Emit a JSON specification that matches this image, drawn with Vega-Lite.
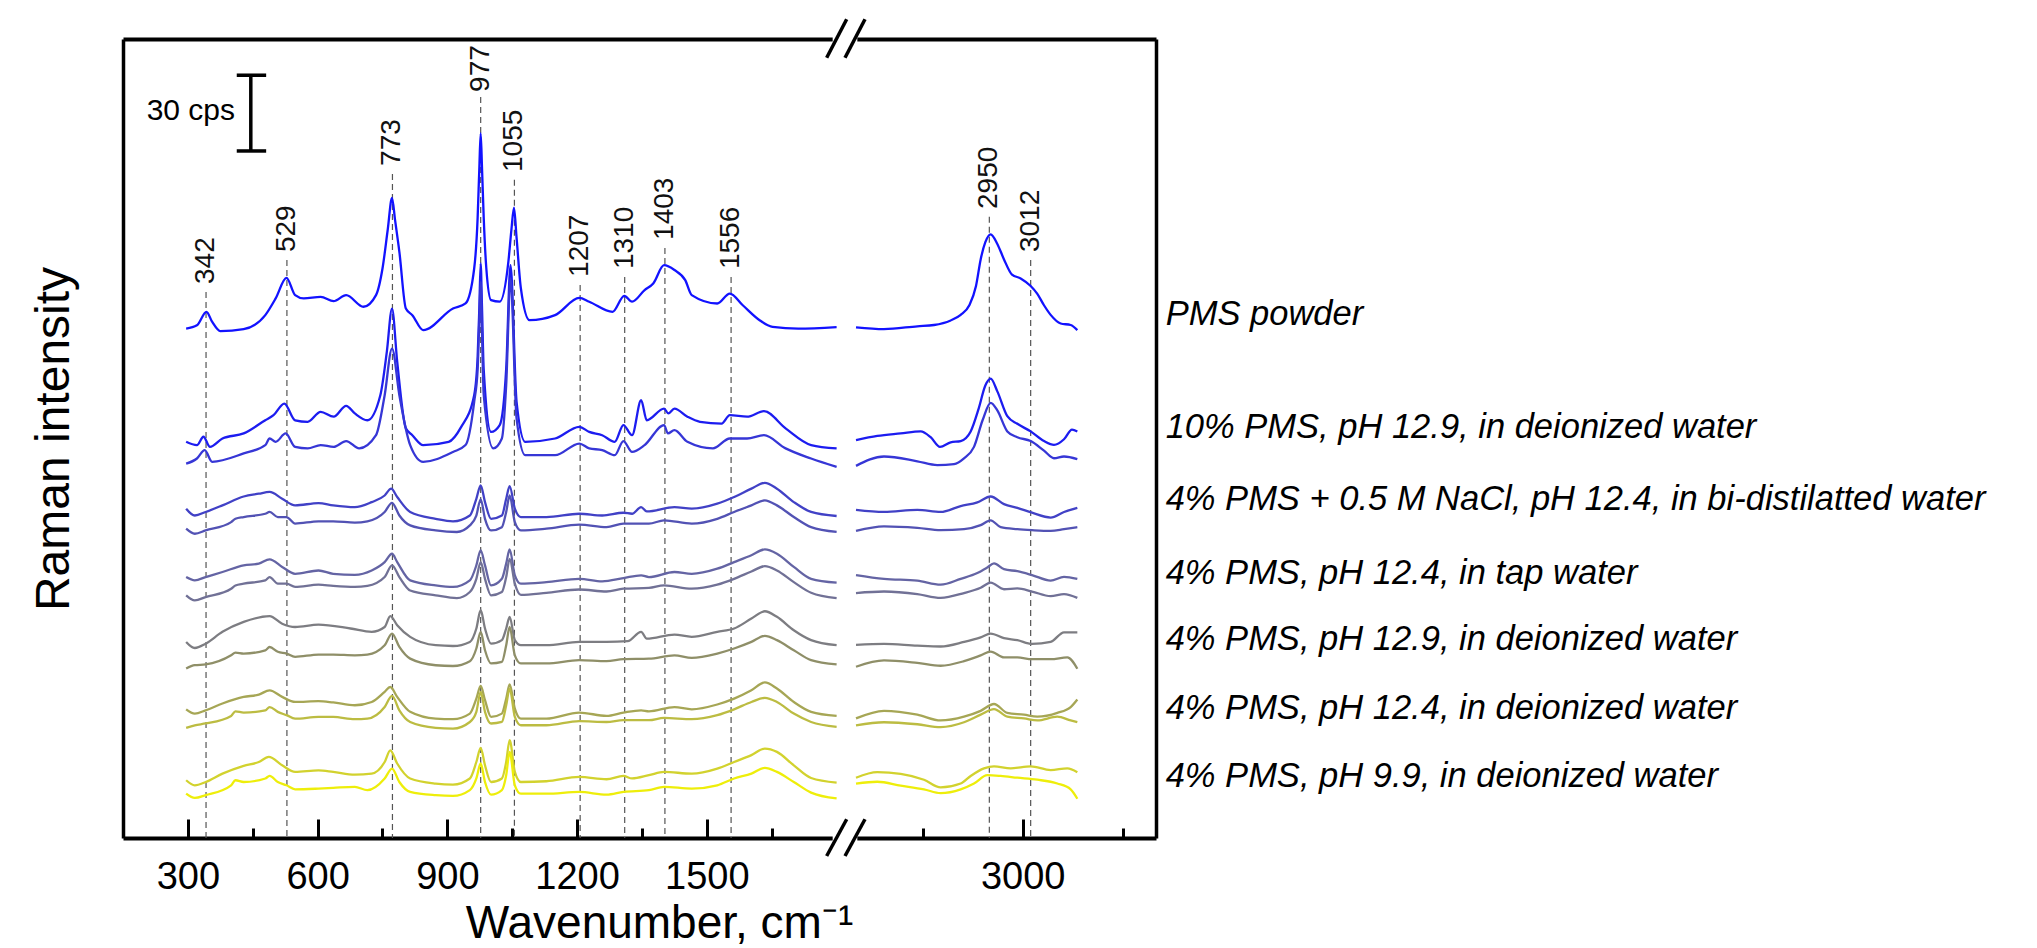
{
  "$schema": "https://vega.github.io/schema/vega-lite/v6.json",
  "padding": {"left": 30, "top": 17, "right": 5, "bottom": 5},
  "config": {"view": {"stroke": null}, "font": "Liberation Sans", "axis": {"grid": false}},
  "datasets": {
    "L": [
      {"s":"p","w":296,"v":201.1},{"s":"p","w":321,"v":202.4},{"s":"p","w":343,"v":207.7},{"s":"p","w":356,"v":203.8},{"s":"p","w":375,"v":200.1},{"s":"p","w":429,"v":200.9},{"s":"p","w":479,"v":206.4},{"s":"p","w":503,"v":213.0},{"s":"p","w":528,"v":221.1},{"s":"p","w":548,"v":214.3},{"s":"p","w":568,"v":213.0},{"s":"p","w":607,"v":213.6},{"s":"p","w":637,"v":211.9},{"s":"p","w":666,"v":214.3},{"s":"p","w":706,"v":209.7},{"s":"p","w":735,"v":214.3},{"s":"p","w":750,"v":224.8},{"s":"p","w":762,"v":240.0},{"s":"p","w":772,"v":252.7},{"s":"p","w":779,"v":244.0},{"s":"p","w":789,"v":231.4},{"s":"p","w":804,"v":209.0},{"s":"p","w":819,"v":206.4},{"s":"p","w":844,"v":200.5},{"s":"p","w":913,"v":209.0},{"s":"p","w":942,"v":211.0},{"s":"p","w":962,"v":224.8},{"s":"p","w":970,"v":245.0},{"s":"p","w":974,"v":265.0},{"s":"p","w":977,"v":278.1},{"s":"p","w":980,"v":265.0},{"s":"p","w":984,"v":245.0},{"s":"p","w":990,"v":225.0},{"s":"p","w":1001,"v":212.3},{"s":"p","w":1021,"v":211.7},{"s":"p","w":1041,"v":227.4},{"s":"p","w":1048,"v":240.0},{"s":"p","w":1054,"v":248.8},{"s":"p","w":1060,"v":237.0},{"s":"p","w":1070,"v":216.9},{"s":"p","w":1090,"v":204.4},{"s":"p","w":1149,"v":206.4},{"s":"p","w":1205,"v":213.2},{"s":"p","w":1228,"v":211.7},{"s":"p","w":1282,"v":207.7},{"s":"p","w":1309,"v":214.0},{"s":"p","w":1327,"v":211.7},{"s":"p","w":1356,"v":216.3},{"s":"p","w":1376,"v":218.9},{"s":"p","w":1401,"v":226.1},{"s":"p","w":1425,"v":224.2},{"s":"p","w":1450,"v":220.2},{"s":"p","w":1465,"v":214.3},{"s":"p","w":1524,"v":211.0},{"s":"p","w":1553,"v":214.9},{"s":"p","w":1583,"v":210.3},{"s":"p","w":1622,"v":204.4},{"s":"p","w":1652,"v":201.8},{"s":"p","w":1711,"v":201.1},{"s":"p","w":1800,"v":201.7},

      {"s":"a1","w":296,"v":156.4},{"s":"a1","w":321,"v":155.1},{"s":"a1","w":336,"v":158.4},{"s":"a1","w":351,"v":154.4},{"s":"a1","w":380,"v":157.7},{"s":"a1","w":429,"v":159.7},{"s":"a1","w":479,"v":164.9},{"s":"a1","w":498,"v":166.9},{"s":"a1","w":523,"v":171.5},{"s":"a1","w":548,"v":164.9},{"s":"a1","w":577,"v":164.3},{"s":"a1","w":607,"v":168.2},{"s":"a1","w":637,"v":166.3},{"s":"a1","w":666,"v":170.6},{"s":"a1","w":686,"v":167.6},{"s":"a1","w":715,"v":164.9},{"s":"a1","w":745,"v":174.8},{"s":"a1","w":760,"v":191.9},{"s":"a1","w":772,"v":209.0},{"s":"a1","w":784,"v":188.0},{"s":"a1","w":804,"v":161.7},{"s":"a1","w":819,"v":159.0},{"s":"a1","w":844,"v":155.1},{"s":"a1","w":903,"v":156.4},{"s":"a1","w":932,"v":162.3},{"s":"a1","w":962,"v":174.8},{"s":"a1","w":970,"v":190.0},{"s":"a1","w":974,"v":210.0},{"s":"a1","w":977,"v":226.8},{"s":"a1","w":980,"v":210.0},{"s":"a1","w":984,"v":185.0},{"s":"a1","w":1001,"v":160.3},{"s":"a1","w":1021,"v":163.0},{"s":"a1","w":1036,"v":185.3},{"s":"a1","w":1046,"v":226.1},{"s":"a1","w":1060,"v":172.2},{"s":"a1","w":1080,"v":156.4},{"s":"a1","w":1149,"v":157.7},{"s":"a1","w":1205,"v":162.3},{"s":"a1","w":1228,"v":160.3},{"s":"a1","w":1258,"v":159.0},{"s":"a1","w":1287,"v":156.4},{"s":"a1","w":1307,"v":163.0},{"s":"a1","w":1327,"v":159.0},{"s":"a1","w":1348,"v":172.8},{"s":"a1","w":1361,"v":164.9},{"s":"a1","w":1401,"v":169.5},{"s":"a1","w":1411,"v":167.6},{"s":"a1","w":1425,"v":169.5},{"s":"a1","w":1455,"v":166.3},{"s":"a1","w":1484,"v":164.3},{"s":"a1","w":1534,"v":163.6},{"s":"a1","w":1553,"v":166.9},{"s":"a1","w":1593,"v":166.3},{"s":"a1","w":1632,"v":168.5},{"s":"a1","w":1682,"v":161.7},{"s":"a1","w":1741,"v":155.1},{"s":"a1","w":1800,"v":153.8},

      {"s":"a2","w":296,"v":147.8},{"s":"a2","w":321,"v":149.8},{"s":"a2","w":339,"v":153.1},{"s":"a2","w":356,"v":148.5},{"s":"a2","w":429,"v":151.8},{"s":"a2","w":479,"v":155.1},{"s":"a2","w":489,"v":157.7},{"s":"a2","w":503,"v":156.4},{"s":"a2","w":526,"v":159.7},{"s":"a2","w":548,"v":154.4},{"s":"a2","w":577,"v":153.8},{"s":"a2","w":607,"v":155.1},{"s":"a2","w":637,"v":154.4},{"s":"a2","w":666,"v":156.7},{"s":"a2","w":696,"v":153.8},{"s":"a2","w":735,"v":159.0},{"s":"a2","w":755,"v":174.8},{"s":"a2","w":772,"v":193.2},{"s":"a2","w":789,"v":174.8},{"s":"a2","w":814,"v":155.1},{"s":"a2","w":844,"v":148.5},{"s":"a2","w":913,"v":152.4},{"s":"a2","w":942,"v":155.1},{"s":"a2","w":962,"v":172.2},{"s":"a2","w":970,"v":185.0},{"s":"a2","w":974,"v":205.0},{"s":"a2","w":977,"v":219.5},{"s":"a2","w":980,"v":200.0},{"s":"a2","w":984,"v":175.0},{"s":"a2","w":1006,"v":153.8},{"s":"a2","w":1026,"v":157.7},{"s":"a2","w":1036,"v":178.8},{"s":"a2","w":1046,"v":220.9},{"s":"a2","w":1060,"v":165.6},{"s":"a2","w":1080,"v":151.1},{"s":"a2","w":1149,"v":151.1},{"s":"a2","w":1205,"v":155.7},{"s":"a2","w":1228,"v":153.8},{"s":"a2","w":1258,"v":153.1},{"s":"a2","w":1287,"v":151.1},{"s":"a2","w":1307,"v":156.7},{"s":"a2","w":1327,"v":152.4},{"s":"a2","w":1356,"v":155.1},{"s":"a2","w":1401,"v":163.0},{"s":"a2","w":1410,"v":159.7},{"s":"a2","w":1425,"v":161.0},{"s":"a2","w":1455,"v":156.4},{"s":"a2","w":1514,"v":153.8},{"s":"a2","w":1553,"v":157.7},{"s":"a2","w":1593,"v":157.7},{"s":"a2","w":1632,"v":159.0},{"s":"a2","w":1682,"v":153.8},{"s":"a2","w":1741,"v":149.8},{"s":"a2","w":1800,"v":146.5},

      {"s":"b1","w":296,"v":130.0},{"s":"b1","w":316,"v":127.3},{"s":"b1","w":341,"v":128.7},{"s":"b1","w":380,"v":131.3},{"s":"b1","w":429,"v":134.8},{"s":"b1","w":464,"v":135.9},{"s":"b1","w":489,"v":136.6},{"s":"b1","w":518,"v":133.9},{"s":"b1","w":548,"v":131.3},{"s":"b1","w":602,"v":132.2},{"s":"b1","w":636,"v":131.3},{"s":"b1","w":686,"v":130.6},{"s":"b1","w":725,"v":132.6},{"s":"b1","w":755,"v":135.2},{"s":"b1","w":770,"v":137.9},{"s":"b1","w":784,"v":134.6},{"s":"b1","w":814,"v":128.7},{"s":"b1","w":873,"v":126.0},{"s":"b1","w":913,"v":125.0},{"s":"b1","w":952,"v":127.3},{"s":"b1","w":967,"v":133.9},{"s":"b1","w":977,"v":139.2},{"s":"b1","w":987,"v":132.6},{"s":"b1","w":1001,"v":126.0},{"s":"b1","w":1026,"v":127.3},{"s":"b1","w":1036,"v":133.9},{"s":"b1","w":1044,"v":138.9},{"s":"b1","w":1056,"v":130.0},{"s":"b1","w":1070,"v":126.7},{"s":"b1","w":1129,"v":126.7},{"s":"b1","w":1205,"v":128.0},{"s":"b1","w":1258,"v":127.3},{"s":"b1","w":1307,"v":128.4},{"s":"b1","w":1327,"v":128.0},{"s":"b1","w":1348,"v":130.6},{"s":"b1","w":1361,"v":128.9},{"s":"b1","w":1425,"v":130.6},{"s":"b1","w":1465,"v":130.0},{"s":"b1","w":1524,"v":132.0},{"s":"b1","w":1563,"v":134.6},{"s":"b1","w":1603,"v":137.9},{"s":"b1","w":1634,"v":140.2},{"s":"b1","w":1662,"v":137.9},{"s":"b1","w":1701,"v":132.6},{"s":"b1","w":1741,"v":128.7},{"s":"b1","w":1800,"v":127.1},

      {"s":"b2","w":296,"v":122.1},{"s":"b2","w":316,"v":120.1},{"s":"b2","w":341,"v":121.4},{"s":"b2","w":400,"v":124.7},{"s":"b2","w":410,"v":126.0},{"s":"b2","w":429,"v":126.7},{"s":"b2","w":479,"v":128.0},{"s":"b2","w":489,"v":128.7},{"s":"b2","w":508,"v":126.7},{"s":"b2","w":528,"v":126.7},{"s":"b2","w":548,"v":124.1},{"s":"b2","w":602,"v":125.0},{"s":"b2","w":636,"v":125.0},{"s":"b2","w":686,"v":124.5},{"s":"b2","w":715,"v":125.0},{"s":"b2","w":755,"v":128.7},{"s":"b2","w":772,"v":132.3},{"s":"b2","w":789,"v":127.3},{"s":"b2","w":814,"v":123.4},{"s":"b2","w":873,"v":121.4},{"s":"b2","w":922,"v":120.8},{"s":"b2","w":952,"v":123.4},{"s":"b2","w":967,"v":127.3},{"s":"b2","w":977,"v":133.7},{"s":"b2","w":987,"v":126.0},{"s":"b2","w":1001,"v":121.4},{"s":"b2","w":1026,"v":122.7},{"s":"b2","w":1036,"v":128.7},{"s":"b2","w":1044,"v":135.2},{"s":"b2","w":1056,"v":124.7},{"s":"b2","w":1070,"v":121.4},{"s":"b2","w":1129,"v":122.1},{"s":"b2","w":1205,"v":123.7},{"s":"b2","w":1268,"v":122.7},{"s":"b2","w":1307,"v":124.1},{"s":"b2","w":1366,"v":124.1},{"s":"b2","w":1401,"v":125.4},{"s":"b2","w":1465,"v":124.1},{"s":"b2","w":1524,"v":126.0},{"s":"b2","w":1563,"v":128.7},{"s":"b2","w":1603,"v":131.3},{"s":"b2","w":1634,"v":133.3},{"s":"b2","w":1662,"v":131.3},{"s":"b2","w":1701,"v":126.7},{"s":"b2","w":1741,"v":122.7},{"s":"b2","w":1800,"v":120.8},

      {"s":"c1","w":296,"v":103.0},{"s":"c1","w":316,"v":101.7},{"s":"c1","w":341,"v":103.0},{"s":"c1","w":380,"v":105.0},{"s":"c1","w":429,"v":107.6},{"s":"c1","w":464,"v":108.3},{"s":"c1","w":489,"v":110.0},{"s":"c1","w":518,"v":107.0},{"s":"c1","w":548,"v":104.3},{"s":"c1","w":602,"v":105.6},{"s":"c1","w":636,"v":104.3},{"s":"c1","w":686,"v":103.9},{"s":"c1","w":725,"v":105.6},{"s":"c1","w":755,"v":108.9},{"s":"c1","w":772,"v":112.2},{"s":"c1","w":784,"v":108.9},{"s":"c1","w":814,"v":101.7},{"s":"c1","w":873,"v":99.7},{"s":"c1","w":913,"v":99.1},{"s":"c1","w":952,"v":101.7},{"s":"c1","w":967,"v":107.6},{"s":"c1","w":977,"v":113.5},{"s":"c1","w":987,"v":107.6},{"s":"c1","w":1001,"v":99.7},{"s":"c1","w":1026,"v":102.3},{"s":"c1","w":1036,"v":108.3},{"s":"c1","w":1044,"v":113.9},{"s":"c1","w":1056,"v":103.7},{"s":"c1","w":1070,"v":100.4},{"s":"c1","w":1129,"v":101.0},{"s":"c1","w":1205,"v":102.3},{"s":"c1","w":1258,"v":101.3},{"s":"c1","w":1307,"v":102.6},{"s":"c1","w":1348,"v":103.7},{"s":"c1","w":1366,"v":103.0},{"s":"c1","w":1425,"v":105.0},{"s":"c1","w":1465,"v":104.3},{"s":"c1","w":1524,"v":106.3},{"s":"c1","w":1563,"v":108.9},{"s":"c1","w":1603,"v":111.6},{"s":"c1","w":1634,"v":113.9},{"s":"c1","w":1662,"v":112.2},{"s":"c1","w":1701,"v":107.0},{"s":"c1","w":1741,"v":102.3},{"s":"c1","w":1800,"v":100.8},

      {"s":"c2","w":296,"v":95.8},{"s":"c2","w":316,"v":93.8},{"s":"c2","w":341,"v":95.1},{"s":"c2","w":400,"v":98.4},{"s":"c2","w":410,"v":99.7},{"s":"c2","w":429,"v":100.4},{"s":"c2","w":479,"v":101.7},{"s":"c2","w":489,"v":103.0},{"s":"c2","w":508,"v":100.4},{"s":"c2","w":528,"v":100.4},{"s":"c2","w":548,"v":99.1},{"s":"c2","w":602,"v":100.0},{"s":"c2","w":636,"v":99.5},{"s":"c2","w":686,"v":99.1},{"s":"c2","w":715,"v":99.5},{"s":"c2","w":755,"v":103.0},{"s":"c2","w":772,"v":107.6},{"s":"c2","w":789,"v":103.0},{"s":"c2","w":814,"v":97.7},{"s":"c2","w":873,"v":95.8},{"s":"c2","w":922,"v":94.7},{"s":"c2","w":952,"v":97.1},{"s":"c2","w":967,"v":102.3},{"s":"c2","w":977,"v":108.9},{"s":"c2","w":987,"v":102.3},{"s":"c2","w":1001,"v":95.8},{"s":"c2","w":1026,"v":97.1},{"s":"c2","w":1036,"v":103.0},{"s":"c2","w":1044,"v":110.2},{"s":"c2","w":1056,"v":100.4},{"s":"c2","w":1070,"v":96.0},{"s":"c2","w":1129,"v":96.8},{"s":"c2","w":1205,"v":98.1},{"s":"c2","w":1268,"v":97.3},{"s":"c2","w":1307,"v":98.4},{"s":"c2","w":1366,"v":98.7},{"s":"c2","w":1401,"v":99.7},{"s":"c2","w":1465,"v":98.4},{"s":"c2","w":1524,"v":100.0},{"s":"c2","w":1563,"v":102.3},{"s":"c2","w":1603,"v":105.2},{"s":"c2","w":1634,"v":107.3},{"s":"c2","w":1662,"v":105.6},{"s":"c2","w":1701,"v":101.0},{"s":"c2","w":1741,"v":96.8},{"s":"c2","w":1800,"v":94.7},

      {"s":"d1","w":296,"v":77.4},{"s":"d1","w":316,"v":75.0},{"s":"d1","w":341,"v":76.7},{"s":"d1","w":380,"v":81.4},{"s":"d1","w":429,"v":85.3},{"s":"d1","w":489,"v":87.6},{"s":"d1","w":518,"v":84.6},{"s":"d1","w":548,"v":83.3},{"s":"d1","w":602,"v":84.2},{"s":"d1","w":676,"v":82.7},{"s":"d1","w":725,"v":81.4},{"s":"d1","w":755,"v":83.3},{"s":"d1","w":768,"v":87.6},{"s":"d1","w":784,"v":84.0},{"s":"d1","w":814,"v":79.4},{"s":"d1","w":873,"v":76.1},{"s":"d1","w":913,"v":75.8},{"s":"d1","w":952,"v":77.4},{"s":"d1","w":967,"v":82.7},{"s":"d1","w":977,"v":89.9},{"s":"d1","w":987,"v":82.7},{"s":"d1","w":1001,"v":76.7},{"s":"d1","w":1026,"v":78.1},{"s":"d1","w":1036,"v":82.7},{"s":"d1","w":1044,"v":87.3},{"s":"d1","w":1056,"v":78.1},{"s":"d1","w":1070,"v":76.1},{"s":"d1","w":1129,"v":76.1},{"s":"d1","w":1205,"v":77.4},{"s":"d1","w":1268,"v":77.4},{"s":"d1","w":1317,"v":77.7},{"s":"d1","w":1348,"v":81.4},{"s":"d1","w":1361,"v":78.7},{"s":"d1","w":1425,"v":80.3},{"s":"d1","w":1465,"v":79.4},{"s":"d1","w":1524,"v":81.4},{"s":"d1","w":1563,"v":82.7},{"s":"d1","w":1603,"v":86.6},{"s":"d1","w":1634,"v":89.5},{"s":"d1","w":1662,"v":87.3},{"s":"d1","w":1701,"v":82.0},{"s":"d1","w":1741,"v":78.1},{"s":"d1","w":1800,"v":76.1},

      {"s":"d2","w":296,"v":66.9},{"s":"d2","w":316,"v":68.2},{"s":"d2","w":341,"v":68.5},{"s":"d2","w":400,"v":72.1},{"s":"d2","w":410,"v":73.2},{"s":"d2","w":429,"v":72.8},{"s":"d2","w":479,"v":74.1},{"s":"d2","w":489,"v":75.4},{"s":"d2","w":508,"v":73.5},{"s":"d2","w":528,"v":72.8},{"s":"d2","w":548,"v":71.5},{"s":"d2","w":602,"v":72.4},{"s":"d2","w":636,"v":72.4},{"s":"d2","w":686,"v":72.1},{"s":"d2","w":715,"v":72.4},{"s":"d2","w":755,"v":76.1},{"s":"d2","w":772,"v":80.7},{"s":"d2","w":789,"v":75.4},{"s":"d2","w":814,"v":70.8},{"s":"d2","w":873,"v":68.2},{"s":"d2","w":913,"v":67.9},{"s":"d2","w":952,"v":69.8},{"s":"d2","w":967,"v":74.8},{"s":"d2","w":977,"v":81.4},{"s":"d2","w":987,"v":74.1},{"s":"d2","w":1001,"v":68.9},{"s":"d2","w":1026,"v":69.5},{"s":"d2","w":1036,"v":76.1},{"s":"d2","w":1044,"v":83.3},{"s":"d2","w":1056,"v":72.1},{"s":"d2","w":1070,"v":68.9},{"s":"d2","w":1129,"v":68.9},{"s":"d2","w":1205,"v":70.2},{"s":"d2","w":1268,"v":69.8},{"s":"d2","w":1307,"v":70.6},{"s":"d2","w":1366,"v":70.8},{"s":"d2","w":1425,"v":72.1},{"s":"d2","w":1465,"v":71.1},{"s":"d2","w":1524,"v":72.8},{"s":"d2","w":1563,"v":74.8},{"s":"d2","w":1603,"v":77.4},{"s":"d2","w":1634,"v":79.8},{"s":"d2","w":1662,"v":78.1},{"s":"d2","w":1701,"v":74.1},{"s":"d2","w":1741,"v":70.2},{"s":"d2","w":1800,"v":68.5},

      {"s":"e1","w":296,"v":50.8},{"s":"e1","w":316,"v":49.1},{"s":"e1","w":341,"v":50.4},{"s":"e1","w":380,"v":53.1},{"s":"e1","w":429,"v":55.7},{"s":"e1","w":464,"v":56.6},{"s":"e1","w":489,"v":58.3},{"s":"e1","w":518,"v":55.7},{"s":"e1","w":548,"v":53.7},{"s":"e1","w":602,"v":54.0},{"s":"e1","w":636,"v":53.5},{"s":"e1","w":686,"v":52.4},{"s":"e1","w":725,"v":53.7},{"s":"e1","w":755,"v":57.7},{"s":"e1","w":768,"v":59.6},{"s":"e1","w":784,"v":55.7},{"s":"e1","w":814,"v":49.8},{"s":"e1","w":873,"v":47.1},{"s":"e1","w":913,"v":46.9},{"s":"e1","w":952,"v":49.1},{"s":"e1","w":967,"v":55.0},{"s":"e1","w":977,"v":60.0},{"s":"e1","w":987,"v":54.4},{"s":"e1","w":1001,"v":47.8},{"s":"e1","w":1026,"v":49.1},{"s":"e1","w":1036,"v":55.0},{"s":"e1","w":1044,"v":60.6},{"s":"e1","w":1056,"v":51.1},{"s":"e1","w":1070,"v":47.1},{"s":"e1","w":1129,"v":47.1},{"s":"e1","w":1205,"v":49.5},{"s":"e1","w":1268,"v":48.2},{"s":"e1","w":1307,"v":49.5},{"s":"e1","w":1348,"v":50.4},{"s":"e1","w":1366,"v":50.0},{"s":"e1","w":1425,"v":51.7},{"s":"e1","w":1465,"v":50.8},{"s":"e1","w":1524,"v":52.7},{"s":"e1","w":1563,"v":55.0},{"s":"e1","w":1603,"v":58.3},{"s":"e1","w":1634,"v":61.4},{"s":"e1","w":1662,"v":59.0},{"s":"e1","w":1701,"v":53.7},{"s":"e1","w":1741,"v":49.8},{"s":"e1","w":1800,"v":48.2},

      {"s":"e2","w":296,"v":43.5},{"s":"e2","w":316,"v":44.5},{"s":"e2","w":341,"v":45.2},{"s":"e2","w":400,"v":48.2},{"s":"e2","w":410,"v":50.0},{"s":"e2","w":429,"v":49.5},{"s":"e2","w":479,"v":50.4},{"s":"e2","w":489,"v":51.7},{"s":"e2","w":508,"v":49.8},{"s":"e2","w":528,"v":48.5},{"s":"e2","w":548,"v":47.1},{"s":"e2","w":602,"v":47.8},{"s":"e2","w":636,"v":47.8},{"s":"e2","w":686,"v":46.9},{"s":"e2","w":715,"v":47.1},{"s":"e2","w":755,"v":51.7},{"s":"e2","w":772,"v":56.1},{"s":"e2","w":789,"v":50.4},{"s":"e2","w":814,"v":45.8},{"s":"e2","w":873,"v":43.5},{"s":"e2","w":913,"v":43.2},{"s":"e2","w":952,"v":45.8},{"s":"e2","w":967,"v":49.8},{"s":"e2","w":977,"v":57.7},{"s":"e2","w":987,"v":49.8},{"s":"e2","w":1001,"v":45.2},{"s":"e2","w":1026,"v":45.8},{"s":"e2","w":1036,"v":52.4},{"s":"e2","w":1044,"v":59.0},{"s":"e2","w":1056,"v":47.8},{"s":"e2","w":1070,"v":44.5},{"s":"e2","w":1129,"v":44.5},{"s":"e2","w":1205,"v":46.1},{"s":"e2","w":1268,"v":45.8},{"s":"e2","w":1307,"v":46.5},{"s":"e2","w":1366,"v":46.5},{"s":"e2","w":1401,"v":47.4},{"s":"e2","w":1465,"v":46.9},{"s":"e2","w":1524,"v":48.5},{"s":"e2","w":1563,"v":50.8},{"s":"e2","w":1603,"v":53.7},{"s":"e2","w":1634,"v":55.3},{"s":"e2","w":1662,"v":53.7},{"s":"e2","w":1701,"v":49.1},{"s":"e2","w":1741,"v":45.8},{"s":"e2","w":1800,"v":43.9},

      {"s":"f1","w":296,"v":22.8},{"s":"f1","w":316,"v":20.8},{"s":"f1","w":341,"v":22.1},{"s":"f1","w":380,"v":25.4},{"s":"f1","w":429,"v":28.5},{"s":"f1","w":464,"v":30.0},{"s":"f1","w":487,"v":32.0},{"s":"f1","w":518,"v":28.7},{"s":"f1","w":548,"v":26.1},{"s":"f1","w":602,"v":26.7},{"s":"f1","w":636,"v":26.1},{"s":"f1","w":686,"v":25.0},{"s":"f1","w":725,"v":25.4},{"s":"f1","w":755,"v":30.0},{"s":"f1","w":768,"v":34.6},{"s":"f1","w":784,"v":29.4},{"s":"f1","w":814,"v":23.5},{"s":"f1","w":873,"v":21.5},{"s":"f1","w":913,"v":21.1},{"s":"f1","w":952,"v":23.5},{"s":"f1","w":967,"v":30.0},{"s":"f1","w":977,"v":35.6},{"s":"f1","w":987,"v":28.7},{"s":"f1","w":1001,"v":22.1},{"s":"f1","w":1026,"v":23.5},{"s":"f1","w":1036,"v":30.0},{"s":"f1","w":1044,"v":38.6},{"s":"f1","w":1056,"v":26.1},{"s":"f1","w":1070,"v":22.1},{"s":"f1","w":1129,"v":22.4},{"s":"f1","w":1205,"v":24.1},{"s":"f1","w":1268,"v":23.2},{"s":"f1","w":1307,"v":24.5},{"s":"f1","w":1327,"v":23.5},{"s":"f1","w":1366,"v":24.8},{"s":"f1","w":1401,"v":26.1},{"s":"f1","w":1465,"v":25.4},{"s":"f1","w":1524,"v":27.4},{"s":"f1","w":1563,"v":30.0},{"s":"f1","w":1603,"v":32.7},{"s":"f1","w":1634,"v":35.3},{"s":"f1","w":1662,"v":34.0},{"s":"f1","w":1701,"v":28.7},{"s":"f1","w":1741,"v":23.7},{"s":"f1","w":1800,"v":21.9},

      {"s":"f2","w":296,"v":17.5},{"s":"f2","w":316,"v":15.8},{"s":"f2","w":341,"v":16.9},{"s":"f2","w":400,"v":20.8},{"s":"f2","w":410,"v":22.8},{"s":"f2","w":429,"v":22.1},{"s":"f2","w":479,"v":23.5},{"s":"f2","w":489,"v":24.5},{"s":"f2","w":508,"v":22.1},{"s":"f2","w":528,"v":20.8},{"s":"f2","w":548,"v":19.2},{"s":"f2","w":602,"v":19.5},{"s":"f2","w":636,"v":19.8},{"s":"f2","w":686,"v":20.2},{"s":"f2","w":715,"v":18.9},{"s":"f2","w":755,"v":23.5},{"s":"f2","w":772,"v":27.4},{"s":"f2","w":789,"v":22.1},{"s":"f2","w":814,"v":18.2},{"s":"f2","w":873,"v":16.9},{"s":"f2","w":913,"v":16.6},{"s":"f2","w":952,"v":18.9},{"s":"f2","w":967,"v":23.5},{"s":"f2","w":977,"v":29.4},{"s":"f2","w":987,"v":22.1},{"s":"f2","w":1001,"v":17.1},{"s":"f2","w":1026,"v":18.9},{"s":"f2","w":1036,"v":24.8},{"s":"f2","w":1044,"v":34.0},{"s":"f2","w":1056,"v":20.8},{"s":"f2","w":1070,"v":17.5},{"s":"f2","w":1129,"v":17.5},{"s":"f2","w":1205,"v":18.2},{"s":"f2","w":1268,"v":17.1},{"s":"f2","w":1307,"v":18.2},{"s":"f2","w":1366,"v":18.9},{"s":"f2","w":1401,"v":20.2},{"s":"f2","w":1465,"v":19.5},{"s":"f2","w":1524,"v":20.8},{"s":"f2","w":1563,"v":23.5},{"s":"f2","w":1603,"v":25.4},{"s":"f2","w":1634,"v":27.7},{"s":"f2","w":1662,"v":26.1},{"s":"f2","w":1701,"v":22.1},{"s":"f2","w":1741,"v":17.9},{"s":"f2","w":1800,"v":15.6}
    ],
    "R": [
      {"s":"p","w":2750,"v":201.6},{"s":"p","w":2792,"v":200.9},{"s":"p","w":2842,"v":202.0},{"s":"p","w":2867,"v":202.5},{"s":"p","w":2892,"v":204.3},{"s":"p","w":2907,"v":206.5},{"s":"p","w":2920,"v":210.3},{"s":"p","w":2930,"v":217.9},{"s":"p","w":2937,"v":228.4},{"s":"p","w":2944,"v":235.2},{"s":"p","w":2952,"v":238.3},{"s":"p","w":2962,"v":234.5},{"s":"p","w":2972,"v":228.4},{"s":"p","w":2984,"v":222.4},{"s":"p","w":2997,"v":220.9},{"s":"p","w":3012,"v":217.9},{"s":"p","w":3022,"v":214.8},{"s":"p","w":3032,"v":210.3},{"s":"p","w":3042,"v":206.5},{"s":"p","w":3057,"v":203.1},{"s":"p","w":3072,"v":202.5},{"s":"p","w":3082,"v":200.5},
      {"s":"a1","w":2750,"v":157.1},{"s":"a1","w":2782,"v":158.7},{"s":"a1","w":2817,"v":159.7},{"s":"a1","w":2847,"v":160.5},{"s":"a1","w":2862,"v":158.2},{"s":"a1","w":2876,"v":154.4},{"s":"a1","w":2892,"v":156.2},{"s":"a1","w":2907,"v":156.7},{"s":"a1","w":2922,"v":160.5},{"s":"a1","w":2934,"v":169.5},{"s":"a1","w":2944,"v":178.6},{"s":"a1","w":2952,"v":181.3},{"s":"a1","w":2962,"v":176.3},{"s":"a1","w":2977,"v":166.5},{"s":"a1","w":2992,"v":163.5},{"s":"a1","w":3012,"v":160.5},{"s":"a1","w":3032,"v":156.7},{"s":"a1","w":3047,"v":155.2},{"s":"a1","w":3062,"v":157.4},{"s":"a1","w":3074,"v":161.2},{"s":"a1","w":3082,"v":160.5},
      {"s":"a2","w":2750,"v":146.9},{"s":"a2","w":2792,"v":150.6},{"s":"a2","w":2842,"v":148.7},{"s":"a2","w":2872,"v":147.2},{"s":"a2","w":2897,"v":147.6},{"s":"a2","w":2912,"v":149.9},{"s":"a2","w":2927,"v":154.4},{"s":"a2","w":2940,"v":165.0},{"s":"a2","w":2952,"v":171.8},{"s":"a2","w":2962,"v":168.8},{"s":"a2","w":2977,"v":160.5},{"s":"a2","w":2992,"v":158.2},{"s":"a2","w":3012,"v":156.7},{"s":"a2","w":3032,"v":152.9},{"s":"a2","w":3047,"v":149.9},{"s":"a2","w":3062,"v":150.6},{"s":"a2","w":3082,"v":149.6},
      {"s":"b1","w":2750,"v":129.5},{"s":"b1","w":2792,"v":128.7},{"s":"b1","w":2842,"v":129.5},{"s":"b1","w":2877,"v":128.7},{"s":"b1","w":2907,"v":131.0},{"s":"b1","w":2932,"v":132.5},{"s":"b1","w":2952,"v":134.8},{"s":"b1","w":2972,"v":131.8},{"s":"b1","w":2992,"v":130.3},{"s":"b1","w":3014,"v":128.4},{"s":"b1","w":3042,"v":126.5},{"s":"b1","w":3062,"v":128.7},{"s":"b1","w":3082,"v":130.3},
      {"s":"b2","w":2750,"v":121.2},{"s":"b2","w":2792,"v":123.0},{"s":"b2","w":2842,"v":122.4},{"s":"b2","w":2877,"v":121.5},{"s":"b2","w":2912,"v":121.9},{"s":"b2","w":2937,"v":123.5},{"s":"b2","w":2952,"v":125.4},{"s":"b2","w":2967,"v":122.7},{"s":"b2","w":2992,"v":121.9},{"s":"b2","w":3014,"v":121.5},{"s":"b2","w":3042,"v":121.2},{"s":"b2","w":3062,"v":121.9},{"s":"b2","w":3082,"v":122.7},
      {"s":"c1","w":2750,"v":103.8},{"s":"c1","w":2792,"v":102.3},{"s":"c1","w":2842,"v":101.6},{"s":"c1","w":2877,"v":100.0},{"s":"c1","w":2907,"v":102.3},{"s":"c1","w":2932,"v":104.6},{"s":"c1","w":2947,"v":106.8},{"s":"c1","w":2957,"v":108.4},{"s":"c1","w":2972,"v":106.1},{"s":"c1","w":2992,"v":105.3},{"s":"c1","w":3014,"v":103.8},{"s":"c1","w":3042,"v":101.6},{"s":"c1","w":3062,"v":103.1},{"s":"c1","w":3082,"v":102.3},
      {"s":"c2","w":2750,"v":96.7},{"s":"c2","w":2792,"v":97.3},{"s":"c2","w":2842,"v":96.3},{"s":"c2","w":2877,"v":94.8},{"s":"c2","w":2912,"v":96.7},{"s":"c2","w":2937,"v":98.8},{"s":"c2","w":2952,"v":100.8},{"s":"c2","w":2972,"v":98.2},{"s":"c2","w":2992,"v":98.5},{"s":"c2","w":3014,"v":97.3},{"s":"c2","w":3042,"v":95.5},{"s":"c2","w":3062,"v":96.3},{"s":"c2","w":3082,"v":94.8},
      {"s":"d1","w":2750,"v":76.2},{"s":"d1","w":2792,"v":76.6},{"s":"d1","w":2842,"v":75.9},{"s":"d1","w":2877,"v":75.6},{"s":"d1","w":2912,"v":77.4},{"s":"d1","w":2937,"v":79.2},{"s":"d1","w":2952,"v":80.7},{"s":"d1","w":2972,"v":78.9},{"s":"d1","w":2992,"v":78.1},{"s":"d1","w":3014,"v":76.6},{"s":"d1","w":3042,"v":77.4},{"s":"d1","w":3062,"v":81.2},{"s":"d1","w":3082,"v":81.2},
      {"s":"d2","w":2750,"v":67.6},{"s":"d2","w":2792,"v":70.1},{"s":"d2","w":2842,"v":69.1},{"s":"d2","w":2877,"v":68.0},{"s":"d2","w":2912,"v":69.8},{"s":"d2","w":2937,"v":72.1},{"s":"d2","w":2952,"v":73.6},{"s":"d2","w":2972,"v":71.3},{"s":"d2","w":2992,"v":71.3},{"s":"d2","w":3014,"v":70.6},{"s":"d2","w":3042,"v":70.6},{"s":"d2","w":3067,"v":71.3},{"s":"d2","w":3082,"v":66.8},
      {"s":"e1","w":2750,"v":47.2},{"s":"e1","w":2792,"v":50.2},{"s":"e1","w":2842,"v":48.7},{"s":"e1","w":2877,"v":46.4},{"s":"e1","w":2912,"v":47.9},{"s":"e1","w":2937,"v":50.2},{"s":"e1","w":2957,"v":52.9},{"s":"e1","w":2977,"v":49.4},{"s":"e1","w":3002,"v":48.7},{"s":"e1","w":3022,"v":47.9},{"s":"e1","w":3052,"v":49.4},{"s":"e1","w":3072,"v":51.7},{"s":"e1","w":3082,"v":54.7},
      {"s":"e2","w":2750,"v":44.5},{"s":"e2","w":2792,"v":45.7},{"s":"e2","w":2842,"v":44.9},{"s":"e2","w":2877,"v":43.8},{"s":"e2","w":2912,"v":45.7},{"s":"e2","w":2937,"v":48.7},{"s":"e2","w":2957,"v":50.9},{"s":"e2","w":2977,"v":47.9},{"s":"e2","w":3002,"v":47.2},{"s":"e2","w":3022,"v":46.4},{"s":"e2","w":3052,"v":47.9},{"s":"e2","w":3072,"v":46.4},{"s":"e2","w":3082,"v":45.7},
      {"s":"f1","w":2750,"v":23.8},{"s":"f1","w":2782,"v":26.0},{"s":"f1","w":2817,"v":25.3},{"s":"f1","w":2852,"v":23.0},{"s":"f1","w":2877,"v":20.0},{"s":"f1","w":2907,"v":21.5},{"s":"f1","w":2922,"v":24.5},{"s":"f1","w":2942,"v":27.5},{"s":"f1","w":2957,"v":28.3},{"s":"f1","w":2982,"v":27.5},{"s":"f1","w":3012,"v":28.3},{"s":"f1","w":3042,"v":26.8},{"s":"f1","w":3067,"v":27.5},{"s":"f1","w":3082,"v":26.0},
      {"s":"f2","w":2750,"v":21.5},{"s":"f2","w":2782,"v":22.2},{"s":"f2","w":2817,"v":20.7},{"s":"f2","w":2852,"v":19.2},{"s":"f2","w":2877,"v":17.7},{"s":"f2","w":2907,"v":19.2},{"s":"f2","w":2927,"v":21.5},{"s":"f2","w":2947,"v":24.8},{"s":"f2","w":2967,"v":24.5},{"s":"f2","w":2992,"v":23.8},{"s":"f2","w":3022,"v":23.0},{"s":"f2","w":3052,"v":21.5},{"s":"f2","w":3072,"v":19.2},{"s":"f2","w":3082,"v":15.5}
    ],
    "PL": [
      {"w":342,"lab":218.7,"top":215.5,"t":"342"},
      {"w":529,"lab":231.3,"top":228.2,"t":"529"},
      {"w":773,"lab":265.3,"top":262.1,"t":"773"},
      {"w":977,"lab":294.5,"top":292.5,"t":"977"},
      {"w":1055,"lab":262.9,"top":259.8,"t":"1055"},
      {"w":1207,"lab":221.5,"top":218.3,"t":"1207"},
      {"w":1310,"lab":224.6,"top":221.5,"t":"1310"},
      {"w":1403,"lab":236.1,"top":232.9,"t":"1403"},
      {"w":1556,"lab":224.6,"top":221.5,"t":"1556"}
    ],
    "PR": [
      {"w":2950,"lab":248.3,"top":245.2,"t":"2950"},
      {"w":3012,"lab":231.3,"top":228.2,"t":"3012"}
    ],
    "labels": [
      {"t":"PMS powder","w":3214.5,"v":206.4},
      {"t":"10% PMS, pH 12.9, in deionized water","w":3214.5,"v":161.7},
      {"t":"4% PMS + 0.5 M NaCl, pH 12.4, in bi-distilatted water","w":3214.5,"v":133.6},
      {"t":"4% PMS, pH 12.4, in tap water","w":3214.5,"v":104.4},
      {"t":"4% PMS, pH 12.9, in deionized water","w":3214.5,"v":78.1},
      {"t":"4% PMS, pH 12.4, in deionized water","w":3214.5,"v":51.1},
      {"t":"4% PMS, pH 9.9, in deionized water","w":3214.5,"v":24.2}
    ],
    "sbar": [{"w":445.5,"v":271.2,"v2":301.1}],
    "scaps": [{"w":413,"w2":481,"v":271.2},{"w":413,"w2":481,"v":301.1}],
    "stext": [{"w":409,"v":287,"t":"30 cps"}],
    "mask": [{"w":2715,"w2":2752,"v":0},{"w":2715,"w2":2752,"v":315.4}],
    "slash": [
      {"w":2706,"w2":2736,"v":-7.1,"v2":7.4},
      {"w":2733.5,"w2":2763.5,"v":-7.1,"v2":7.4},
      {"w":2706,"w2":2736,"v":308.0,"v2":323.2},
      {"w":2733.5,"w2":2763.5,"v":308.0,"v2":323.2}
    ]
  },
  "hconcat": [
    {
      "width": 724,
      "height": 799,
      "resolve": {"axis": {"x": "independent", "y": "independent"}},
      "layer": [
        {
          "data": {"name": "PL"},
          "mark": {"type": "rule", "strokeDash": [6, 4], "color": "#555555", "strokeWidth": 1.2},
          "encoding": {
            "x": {"field": "w", "type": "quantitative", "scale": {"domain": [150, 1824], "nice": false, "zero": false},
              "axis": {"orient": "bottom", "values": [300, 600, 900, 1200, 1500], "format": "d", "tickSize": -19, "tickWidth": 3, "tickColor": "black",
                "domainWidth": 4, "domainColor": "black", "labelFontSize": 38, "labelColor": "black", "labelPadding": 39, "labelFlush": false,
                "title": "Wavenumber, cm⁻¹", "titleFontSize": 46, "titleFontWeight": "normal", "titleColor": "black",
                "titleX": 536, "titleY": 99, "titleBaseline": "alphabetic", "titleAlign": "center", "titleAnchor": null}},
            "y": {"field": "top", "type": "quantitative", "scale": {"domain": [0, 315.4], "nice": false, "zero": false},
              "axis": {"orient": "left", "domain": true, "domainWidth": 3.5, "domainColor": "black", "ticks": false, "labels": false,
                "title": "Raman intensity", "titleFontSize": 48, "titleFontWeight": "normal", "titleColor": "black", "titlePadding": 45}},
            "y2": {"datum": 0}
          }
        },
        {
          "data": {"name": "L"},
          "mark": {"type": "line", "strokeWidth": 2.3, "interpolate": "monotone"},
          "encoding": {
            "x": {"field": "w", "type": "quantitative", "scale": {"domain": [150, 1824], "nice": false, "zero": false},
              "axis": {"orient": "bottom", "values": [450, 750, 1050, 1350, 1650], "tickSize": -10, "tickWidth": 3, "tickColor": "black",
                "domain": false, "labels": false, "title": null}},
            "y": {"field": "v", "type": "quantitative", "scale": {"domain": [0, 315.4], "nice": false, "zero": false}, "axis": null},
            "color": {"field": "s", "type": "nominal", "legend": null,
              "scale": {"domain": ["p","a1","a2","b1","b2","c1","c2","d1","d2","e1","e2","f1","f2"],
                "range": ["#1212ff","#1c1cf0","#3636d6","#4141c6","#5252b4","#6464a4","#717196","#7d7d82","#8f8f68","#a6a655","#bcbc42","#d2d22e","#eeee0a"]}},
            "detail": {"field": "s"}
          }
        },
        {
          "data": {"name": "PL"},
          "mark": {"type": "text", "angle": 270, "align": "left", "baseline": "middle", "fontSize": 28, "color": "#111111"},
          "encoding": {
            "x": {"field": "w", "type": "quantitative", "scale": {"domain": [150, 1824], "nice": false, "zero": false},
              "axis": {"orient": "top", "domain": true, "domainWidth": 4, "domainColor": "black", "ticks": false, "labels": false, "title": null}},
            "y": {"field": "lab", "type": "quantitative", "scale": {"domain": [0, 315.4], "nice": false, "zero": false}, "axis": null},
            "text": {"field": "t"}
          }
        },
        {
          "data": {"name": "sbar"},
          "mark": {"type": "rule", "color": "black", "strokeWidth": 3.5},
          "encoding": {
            "x": {"field": "w", "type": "quantitative", "scale": {"domain": [150, 1824], "nice": false, "zero": false}, "axis": null},
            "y": {"field": "v", "type": "quantitative", "scale": {"domain": [0, 315.4], "nice": false, "zero": false}, "axis": null},
            "y2": {"field": "v2"}
          }
        },
        {
          "data": {"name": "scaps"},
          "mark": {"type": "rule", "color": "black", "strokeWidth": 3.5},
          "encoding": {
            "x": {"field": "w", "type": "quantitative", "scale": {"domain": [150, 1824], "nice": false, "zero": false}, "axis": null},
            "x2": {"field": "w2"},
            "y": {"field": "v", "type": "quantitative", "scale": {"domain": [0, 315.4], "nice": false, "zero": false}, "axis": null}
          }
        },
        {
          "data": {"name": "stext"},
          "mark": {"type": "text", "align": "right", "baseline": "middle", "fontSize": 30, "color": "black"},
          "encoding": {
            "x": {"field": "w", "type": "quantitative", "scale": {"domain": [150, 1824], "nice": false, "zero": false}, "axis": null},
            "y": {"field": "v", "type": "quantitative", "scale": {"domain": [0, 315.4], "nice": false, "zero": false}, "axis": null},
            "text": {"field": "t"}
          }
        }
      ]
    },
    {
      "width": 309,
      "height": 799,
      "resolve": {"axis": {"x": "independent", "y": "independent"}},
      "layer": [
        {
          "data": {"name": "PR"},
          "mark": {"type": "rule", "strokeDash": [6, 4], "color": "#555555", "strokeWidth": 1.2},
          "encoding": {
            "x": {"field": "w", "type": "quantitative", "scale": {"domain": [2736.5, 3200], "nice": false, "zero": false},
              "axis": {"orient": "bottom", "values": [3000], "format": "d", "tickSize": -19, "tickWidth": 3, "tickColor": "black",
                "domainWidth": 4, "domainColor": "black", "labelFontSize": 38, "labelColor": "black", "labelPadding": 39, "labelFlush": false, "title": null}},
            "y": {"field": "top", "type": "quantitative", "scale": {"domain": [0, 315.4], "nice": false, "zero": false},
              "axis": {"orient": "right", "domain": true, "domainWidth": 3.5, "domainColor": "black", "ticks": false, "labels": false, "title": null}},
            "y2": {"datum": 0}
          }
        },
        {
          "data": {"name": "R"},
          "mark": {"type": "line", "strokeWidth": 2.3, "interpolate": "monotone"},
          "encoding": {
            "x": {"field": "w", "type": "quantitative", "scale": {"domain": [2736.5, 3200], "nice": false, "zero": false},
              "axis": {"orient": "bottom", "values": [2850, 3150], "tickSize": -10, "tickWidth": 3, "tickColor": "black",
                "domain": false, "labels": false, "title": null}},
            "y": {"field": "v", "type": "quantitative", "scale": {"domain": [0, 315.4], "nice": false, "zero": false}, "axis": null},
            "color": {"field": "s", "type": "nominal", "legend": null,
              "scale": {"domain": ["p","a1","a2","b1","b2","c1","c2","d1","d2","e1","e2","f1","f2"],
                "range": ["#1212ff","#1c1cf0","#3636d6","#4141c6","#5252b4","#6464a4","#717196","#7d7d82","#8f8f68","#a6a655","#bcbc42","#d2d22e","#eeee0a"]}},
            "detail": {"field": "s"}
          }
        },
        {
          "data": {"name": "PR"},
          "mark": {"type": "text", "angle": 270, "align": "left", "baseline": "middle", "fontSize": 28, "color": "#111111"},
          "encoding": {
            "x": {"field": "w", "type": "quantitative", "scale": {"domain": [2736.5, 3200], "nice": false, "zero": false},
              "axis": {"orient": "top", "domain": true, "domainWidth": 4, "domainColor": "black", "ticks": false, "labels": false, "title": null}},
            "y": {"field": "lab", "type": "quantitative", "scale": {"domain": [0, 315.4], "nice": false, "zero": false}, "axis": null},
            "text": {"field": "t"}
          }
        },
        {
          "data": {"name": "labels"},
          "mark": {"type": "text", "align": "left", "baseline": "middle", "fontSize": 34.5, "fontStyle": "italic", "color": "black"},
          "encoding": {
            "x": {"field": "w", "type": "quantitative", "scale": {"domain": [2736.5, 3200], "nice": false, "zero": false}, "axis": null},
            "y": {"field": "v", "type": "quantitative", "scale": {"domain": [0, 315.4], "nice": false, "zero": false}, "axis": null},
            "text": {"field": "t"}
          }
        },
        {
          "data": {"name": "mask"},
          "mark": {"type": "rule", "color": "white", "strokeWidth": 9},
          "encoding": {
            "x": {"field": "w", "type": "quantitative", "scale": {"domain": [2736.5, 3200], "nice": false, "zero": false}, "axis": null},
            "x2": {"field": "w2"},
            "y": {"field": "v", "type": "quantitative", "scale": {"domain": [0, 315.4], "nice": false, "zero": false}, "axis": null}
          }
        },
        {
          "data": {"name": "slash"},
          "mark": {"type": "rule", "color": "black", "strokeWidth": 3.5},
          "encoding": {
            "x": {"field": "w", "type": "quantitative", "scale": {"domain": [2736.5, 3200], "nice": false, "zero": false}, "axis": null},
            "x2": {"field": "w2"},
            "y": {"field": "v", "type": "quantitative", "scale": {"domain": [0, 315.4], "nice": false, "zero": false}, "axis": null},
            "y2": {"field": "v2"}
          }
        }
      ]
    }
  ],
  "spacing": 0,
  "bounds": "flush"
}
